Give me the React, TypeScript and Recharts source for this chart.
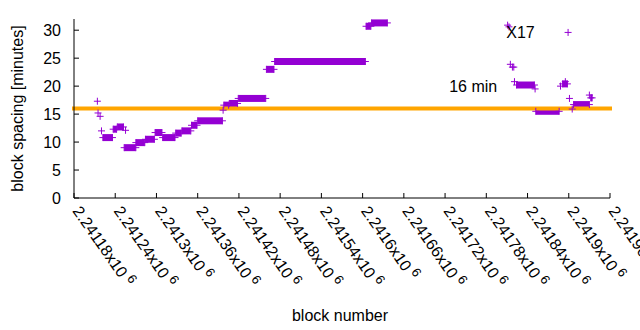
import React from 'react';
import { ComposedChart, Line, Scatter, XAxis, YAxis, ReferenceLine, ReferenceDot } from 'recharts';

// flat runs of blocks (start block, end block, spacing in minutes)
const segStart = [2241222, 2241237, 2241243, 2241253, 2241270, 2241284, 2241298, 2241309, 2241328, 2241337, 2241351, 2241360, 2241398, 2241406, 2241419, 2241460, 2241472, 2241605, 2241613, 2241824, 2241852, 2241891, 2241907, 2241932];
const segEnd = [2241236, 2241242, 2241252, 2241270, 2241283, 2241297, 2241308, 2241327, 2241336, 2241350, 2241359, 2241396, 2241405, 2241418, 2241459, 2241471, 2241604, 2241612, 2241636, 2241850, 2241886, 2241898, 2241930, 2241934];
const segValue = [10.8, 12.3, 12.7, 9.0, 9.9, 10.5, 11.7, 10.8, 11.6, 12.0, 13.0, 13.8, 16.6, 16.9, 17.8, 23.0, 24.4, 30.7, 31.3, 20.2, 15.5, 20.4, 16.7, 17.9];

// isolated blocks
const pointBlock = [2241214, 2241215, 2241218, 2241220, 2241255, 2241397, 2241811, 2241813, 2241815, 2241818, 2241820, 2241821, 2241851, 2241888, 2241895, 2241899, 2241901, 2241905, 2241930];
const pointValue = [17.3, 15.2, 14.6, 12.0, 12.1, 15.7, 30.9, 30.6, 23.9, 23.4, 23.4, 20.8, 19.5, 20.0, 20.8, 29.6, 17.8, 15.9, 18.4];

const xTicks = [2241180, 2241240, 2241300, 2241360, 2241420, 2241480, 2241540, 2241600, 2241660, 2241720, 2241780, 2241840, 2241900, 2241960];
const xTickLabels = ['2.24118', '2.24124', '2.2413', '2.24136', '2.24142', '2.24148', '2.24154', '2.2416', '2.24166', '2.24172', '2.24178', '2.24184', '2.2419', '2.24196'];
const yTicks = [0, 5, 10, 15, 20, 25, 30];
const thresholdValue = 16;

const noteText = ['16 min', 'X17'];
const noteBlock = [2241726, 2241809];
const noteValue = [20.0, 29.6];

const PURPLE = '#9400D3';
const ORANGE = '#FFA500';
const FONT = '"Liberation Sans", Arial, sans-serif';
const FS = 16;

const points = pointBlock.map((b, i) => ({ x: b, y: pointValue[i] }));

const plusPath = (cx: number, cy: number) =>
  `M${cx - 3.5},${cy}H${cx + 3.5}M${cx},${cy - 3.5}V${cy + 3.5}`;

const PlusShape = (props: any) => {
  const { cx, cy } = props;
  if (cx == null || cy == null) return <g />;
  return <path d={plusPath(cx, cy)} stroke={PURPLE} strokeWidth={1} fill="none" />;
};

const renderDot = (props: any) => {
  const { cx, cy, index } = props;
  return <path key={`d${index}`} d={plusPath(cx, cy)} stroke={PURPLE} strokeWidth={1} fill="none" />;
};

const XTick = (props: any) => {
  const { x, y, payload } = props;
  const idx = xTicks.indexOf(payload.value);
  const label = idx >= 0 ? xTickLabels[idx] : String(payload.value);
  const ox = x - 2;
  const oy = y;
  return (
    <text x={ox} y={oy} transform={`rotate(55 ${ox} ${oy})`} textAnchor="start" fontFamily={FONT} fontSize={FS} fill="#000">
      <tspan>{label}x10</tspan>
      <tspan dx={4} dy={-6} fontSize={13}>6</tspan>
    </text>
  );
};

export default function App() {
  return (
    <div style={{ position: 'absolute', left: 0, top: 0, background: '#fff' }}>
      <ComposedChart width={640} height={330} margin={{ top: 19, right: 30, bottom: 0, left: 0 }}>
        <XAxis
          dataKey="x"
          type="number"
          domain={[2241180, 2241960]}
          ticks={xTicks}
          interval={0}
          height={132}
          tickSize={-5}
          tickMargin={18}
          tick={<XTick />}
          axisLine={{ stroke: '#000' }}
          tickLine={{ stroke: '#000' }}
          label={{
            content: (p: any) => {
              const vb = p.viewBox;
              return (
                <text x={vb.x + vb.width / 2 - 2} y={vb.y + vb.height - 9} textAnchor="middle" fontFamily={FONT} fontSize={FS} fill="#000">
                  block number
                </text>
              );
            },
          }}
        />
        <XAxis
          xAxisId="top"
          orientation="top"
          type="number"
          domain={[2241180, 2241960]}
          ticks={xTicks}
          interval={0}
          height={0}
          tickSize={-5}
          tick={false}
          axisLine={{ stroke: '#000' }}
          tickLine={{ stroke: '#000' }}
        />
        <YAxis
          type="number"
          domain={[0, 32]}
          ticks={yTicks}
          interval={0}
          width={74}
          tickSize={-5}
          tickMargin={18}
          tick={{ fontFamily: FONT, fontSize: FS, fill: '#000' }}
          axisLine={{ stroke: '#000' }}
          tickLine={{ stroke: '#000' }}
          label={{
            content: (p: any) => {
              const vb = p.viewBox;
              const lx = vb.x + 17;
              const ly = vb.y + vb.height / 2;
              return (
                <text x={lx} y={ly} transform={`rotate(-90 ${lx} ${ly})`} textAnchor="middle" dominantBaseline="central" fontFamily={FONT} fontSize={FS} fill="#000">
                  block spacing [minutes]
                </text>
              );
            },
          }}
        />
        <YAxis
          yAxisId="right"
          orientation="right"
          type="number"
          domain={[0, 32]}
          ticks={yTicks}
          interval={0}
          width={0}
          tickSize={-5}
          tick={false}
          axisLine={{ stroke: '#000' }}
          tickLine={{ stroke: '#000' }}
        />
        {segStart.map((s, i) => (
          <Line
            key={`seg${i}`}
            data={[{ x: s, y: segValue[i] }, { x: segEnd[i], y: segValue[i] }]}
            dataKey="y"
            type="linear"
            stroke={PURPLE}
            strokeWidth={7}
            strokeLinecap="butt"
            dot={renderDot}
            activeDot={false}
            isAnimationActive={false}
            legendType="none"
          />
        ))}
        <Scatter data={points} dataKey="y" shape={<PlusShape />} fill={PURPLE} isAnimationActive={false} />
        <ReferenceLine y={thresholdValue} stroke={ORANGE} strokeWidth={4} strokeLinecap="square" />
        {noteText.map((t, i) => (
          <ReferenceDot
            key={`note${i}`}
            x={noteBlock[i]}
            y={noteValue[i]}
            r={0}
            shape={(p: any) => (
              <text x={p.cx} y={p.cy} textAnchor="start" dominantBaseline="central" fontFamily={FONT} fontSize={FS} fill="#000">
                {t}
              </text>
            )}
          />
        ))}
      </ComposedChart>
    </div>
  );
}
